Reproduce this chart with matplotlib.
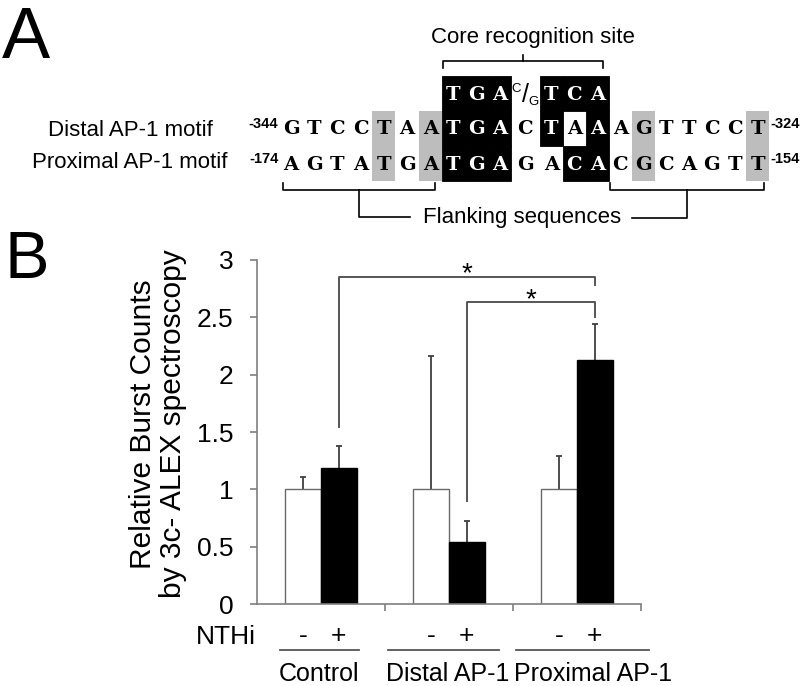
import matplotlib
matplotlib.use("Agg")
import matplotlib.pyplot as plt
from matplotlib.patches import Rectangle
from matplotlib import transforms
import numpy as np

plt.rcParams['font.family'] = ['Liberation Sans', 'DejaVu Sans']

# ---------------- data ----------------
groups = ["Control", "Distal AP-1", "Proximal AP-1"]
untreated = [1.0, 1.0, 1.0]
untreated_err = [0.11, 1.16, 0.29]
nthi = [1.19, 0.54, 2.13]
nthi_err = [0.19, 0.18, 0.31]
treat_labels = ["-", "+"]
yticks = [0, 0.5, 1, 1.5, 2, 2.5, 3]
ytick_labels = ["0", "0.5", "1", "1.5", "2", "2.5", "3"]

sig_pairs = [(0, 2), (1, 2)]
sig_level = [2.85, 2.63]
sig_left_end = [1.54, 0.90]
sig_right_end = [2.78, 2.50]

distal_seq = "GTCCTAATGACTAAAGTTCCT"
proximal_seq = "AGTATGATGAGACACGCAGTT"
consensus_left = "TGA"
consensus_right = "TCA"
distal_pos = ("-344", "-324")
proximal_pos = ("-174", "-154")
gray_cols = [4, 6, 15, 20]
black_consensus = [7, 8, 9, 11, 12, 13]
black_distal = [7, 8, 9, 11, 13]
black_proximal = [7, 8, 9, 12, 13]

# ---------------- figure ----------------
W, H = 800, 686
fig = plt.figure(figsize=(W / 100, H / 100), dpi=100)
ov = fig.add_axes([0, 0, 1, 1])
ov.set_xlim(0, W)
ov.set_ylim(H, 0)
ov.axis('off')
ov.patch.set_alpha(0)

# ---------------- panel A ----------------
ov.text(2, 58, "A", fontsize=52, ha='left', va='baseline')

cell_w = [23.2] * 7 + [23, 23, 23, 29, 23, 23, 23] + [22.9] * 7
edges = 279.4 + np.concatenate([[0], np.cumsum(cell_w)])
centers = (edges[:-1] + edges[1:]) / 2
row_top = [76, 111, 146]
row_bot = [111, 146, 181]

def cell(i, r, color):
    ov.add_patch(Rectangle((edges[i], row_top[r]), edges[i + 1] - edges[i],
                           row_bot[r] - row_top[r], facecolor=color,
                           edgecolor=color, lw=0.6, zorder=1))

for g in gray_cols:
    ov.add_patch(Rectangle((edges[g], row_top[1]), edges[g + 1] - edges[g],
                           row_bot[2] - row_top[1], facecolor='#bdbdbd',
                           edgecolor='none', zorder=1))
for i in black_consensus:
    cell(i, 0, 'black')
for i in black_distal:
    cell(i, 1, 'black')
for i in black_proximal:
    cell(i, 2, 'black')

seqfont = dict(family='DejaVu Serif', fontweight='bold', fontsize=14,
               ha='center', va='center', zorder=3)
for r, (seq, blacks) in enumerate([(distal_seq, black_distal),
                                   (proximal_seq, black_proximal)], start=1):
    yc = (row_top[r] + row_bot[r]) / 2 + 1
    for i, ch in enumerate(seq):
        ov.text(centers[i], yc, ch, color='white' if i in blacks else 'black', **seqfont)

yc0 = (row_top[0] + row_bot[0]) / 2 + 1
for k, ch in enumerate(consensus_left):
    ov.text(centers[7 + k], yc0, ch, color='white', **seqfont)
for k, ch in enumerate(consensus_right):
    ov.text(centers[11 + k], yc0, ch, color='white', **seqfont)
ov.text(centers[10] - 9, 89, "C", fontsize=9.5, ha='center', va='center', zorder=3)
ov.text(centers[10] + 0.5, 95, "/", fontsize=18, ha='center', va='center', zorder=3)
ov.text(centers[10] + 8, 102, "G", fontsize=9.5, ha='center', va='center', zorder=3)

# position numbers
pk = dict(fontsize=10.5, fontweight='bold', va='center')
ov.text(edges[0] - 1, 124, distal_pos[0], ha='right', **pk)
ov.text(edges[0] - 1, 159, proximal_pos[0], ha='right', **pk)
ov.text(edges[-1] + 1, 124, distal_pos[1], ha='left', **pk)
ov.text(edges[-1] + 1, 159, proximal_pos[1], ha='left', **pk)

# row labels
ov.text(130, 130, "Distal AP-1 motif", fontsize=16, ha='center', va='center')
ov.text(130, 163, "Proximal AP-1 motif", fontsize=16, ha='center', va='center')

# core recognition bracket
lk = dict(color='black', lw=1.2)
cl, cr = edges[7] + 1, edges[14] - 6
cm = (cl + cr) / 2
ov.plot([cl, cl, cr, cr], [68, 61, 61, 68], **lk)
ov.plot([cm, cm], [61, 55], **lk)
ov.text(533, 37, "Core recognition site", fontsize=16, ha='center', va='center')

# flanking brackets
fl_l, fl_r = centers[0] - 8, edges[7] - 7
fr_l, fr_r = edges[14] + 1, centers[20] + 6
for a, b in [(fl_l, fl_r), (fr_l, fr_r)]:
    ov.plot([a, a, b, b], [183, 190, 190, 183], **lk)
ml = (fl_l + fl_r) / 2
mr = (fr_l + fr_r) / 2
ov.plot([ml, ml, 410], [190, 217, 217], **lk)
ov.plot([632, mr, mr], [218, 218, 190], **lk)
ov.text(522, 217, "Flanking sequences", fontsize=16, ha='center', va='center')

# ---------------- panel B ----------------
ov.text(5, 278, "B", fontsize=48, ha='left', va='baseline')

x0, x1, ytop, ybot = 257, 641, 260, 604
ax = fig.add_axes([x0 / W, (H - ybot) / H, (x1 - x0) / W, (ybot - ytop) / H])
ax.patch.set_alpha(0)
ax.set_xlim(0, 3)
ax.set_ylim(0, 3)
for s in ['top', 'right']:
    ax.spines[s].set_visible(False)
for s in ['left', 'bottom']:
    ax.spines[s].set_color('#7f7f7f')
    ax.spines[s].set_linewidth(1.2)

xc = np.arange(len(groups)) + 0.5
bw = 0.28
xw = xc - bw / 2
xb = xc + bw / 2
ax.bar(xw, untreated, bw, color='white', edgecolor='#6a6a6a', lw=1.0, zorder=2)
ax.bar(xb, nthi, bw, color='black', edgecolor='black', lw=1.0, zorder=2)
for xs, ys, es in [(xw, untreated, untreated_err), (xb, nthi, nthi_err)]:
    eb = ax.errorbar(xs, ys, yerr=[np.zeros(3), es], fmt='none',
                     ecolor='#404040', elinewidth=1.3, capsize=2.5,
                     capthick=1.3, zorder=1)
    eb[1][0].set_visible(False)  # hide lower caps

ax.set_yticks(yticks)
ax.set_yticklabels(ytick_labels, fontsize=19)
ax.set_xticks([1, 2, 3])
ax.set_xticklabels([])
ax.tick_params(axis='y', direction='out', length=5, width=1.2, color='#7f7f7f', pad=12)
ax.tick_params(axis='x', direction='out', length=5, width=1.2, color='#7f7f7f')

# significance brackets
for (a, b), lev, le, re in zip(sig_pairs, sig_level, sig_left_end, sig_right_end):
    xa, xbb = xb[a], xb[b]
    ax.plot([xa, xa, xbb, xbb], [le, lev, lev, re], color='#555555', lw=1.4,
            clip_on=False, zorder=3)
    ax.text((xa + xbb) / 2, lev - 0.09, "*", fontsize=20, ha='center',
            va='bottom', clip_on=False)

ov.text(158, 424, "Relative Burst Counts\nby 3c- ALEX spectroscopy", rotation=90,
        ha='center', va='center', multialignment='center', fontsize=21.5,
        linespacing=1.05)

# treatment signs and group labels below axis
bt = transforms.blended_transform_factory(ax.transData, ov.transData)
ov.text(256, 637, "NTHi", fontsize=19, ha='right', va='center')
ul_start = [0.18, 1.02, 2.02]
ul_end = [0.80, 1.89, 3.06]
for i in range(len(groups)):
    ax.text(xw[i], 636, treat_labels[0], transform=bt, fontsize=19, ha='center', va='center')
    ax.text(xb[i], 636, treat_labels[1], transform=bt, fontsize=19, ha='center', va='center')
    ax.plot([ul_start[i], ul_end[i]], [650, 650], transform=bt, color='#555555',
            lw=1.3, clip_on=False)
    ax.text(ul_start[i] - 0.01, 674, groups[i], transform=bt, fontsize=18,
            ha='left', va='center')

fig.savefig("out.png", dpi=100)
